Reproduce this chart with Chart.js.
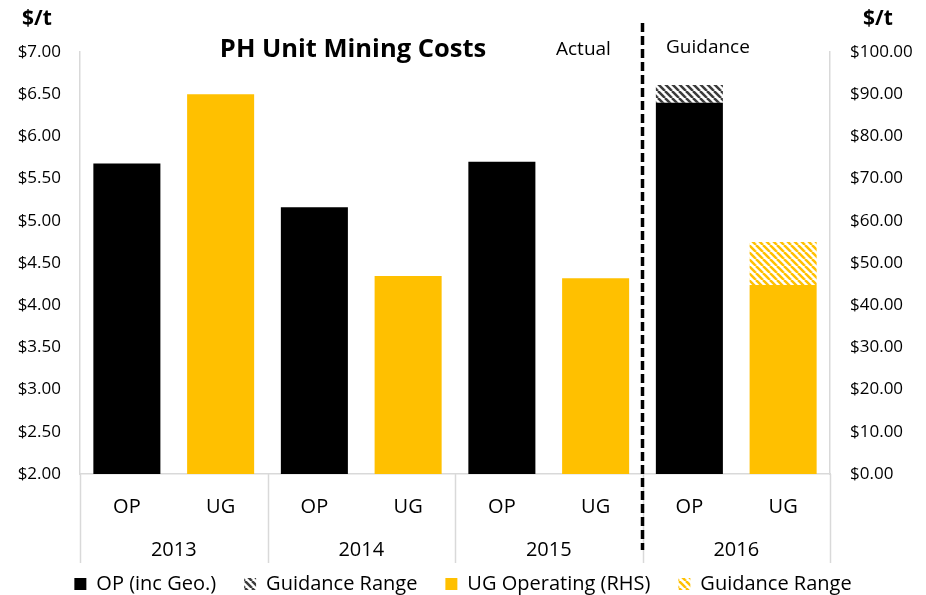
<!DOCTYPE html>
<html>
<head>
<meta charset="utf-8">
<script src="https://cdn.jsdelivr.net/npm/chart.js@4"></script>
<style>
  html, body { margin: 0; padding: 0; background: #fff; }
  #wrap { width: 926px; height: 595px; position: relative; }
</style>
</head>
<body>
<div id="wrap"><canvas id="chart"></canvas></div>
<script>
// categories
const labels = ['OP', 'UG', 'OP', 'UG', 'OP', 'UG', 'OP', 'UG'];
const years = ['2013', '2014', '2015', '2016'];

// OP on left axis ($/t), UG on right axis ($/t)
const opCost = [5.68, null, 5.16, null, 5.70, null, 6.40, null];
const opRange = [null, null, null, null, null, null, [6.40, 6.61], null];
const ugCost = [null, 90.0, null, 46.9, null, 46.4, null, 44.8];
const ugRange = [null, null, null, null, null, null, null, [44.8, 55.0]];

const leftTicks = { min: 2, max: 7, step: 0.5 };
const rightTicks = { min: 0, max: 100, step: 10 };

const FONT = "'Open Sans', 'Noto Sans', sans-serif";
const YELLOW = '#ffc000';

function hatch(color) {
  const s = 7;
  const c = document.createElement('canvas');
  c.width = s; c.height = s;
  const g = c.getContext('2d');
  g.fillStyle = '#fff';
  g.fillRect(0, 0, s, s);
  g.strokeStyle = color;
  g.lineWidth = 2.5;
  for (let k = -1; k <= 1; k++) {
    g.beginPath();
    g.moveTo(k * s, 0);
    g.lineTo(k * s + s, s);
    g.stroke();
  }
  return g.createPattern(c, 'repeat');
}

// separators, year labels, divider and headings
const extras = {
  id: 'extras',
  afterDraw(chart) {
    const { ctx, chartArea: a, scales } = chart;
    const x = scales.x;
    const edge = i => i === 0 ? a.left : i === labels.length ? a.right
      : (x.getPixelForValue(i - 1) + x.getPixelForValue(i)) / 2;

    ctx.save();
    ctx.strokeStyle = '#d9d9d9';
    ctx.lineWidth = 1.5;
    for (let i = 0; i <= labels.length; i += 2) {
      const px = Math.round(edge(i)) + 0.5;
      ctx.beginPath();
      ctx.moveTo(px, a.bottom);
      ctx.lineTo(px, 563);
      ctx.stroke();
    }

    ctx.fillStyle = '#000';
    ctx.font = '20px ' + FONT;
    ctx.textAlign = 'center';
    ctx.textBaseline = 'middle';
    years.forEach((y, i) => {
      const cx = (x.getPixelForValue(2 * i) + x.getPixelForValue(2 * i + 1)) / 2;
      ctx.fillText(y, cx, 550);
    });

    // actual / guidance divider
    const dx = edge(6);
    ctx.strokeStyle = '#000';
    ctx.lineWidth = 3.5;
    ctx.setLineDash([9, 4]);
    ctx.beginPath();
    ctx.moveTo(dx, 23);
    ctx.lineTo(dx, 550);
    ctx.stroke();
    ctx.setLineDash([]);

    ctx.font = 'bold 25.5px ' + FONT;
    ctx.fillText('PH Unit Mining Costs', 353, 50);
    ctx.font = 'bold 21px ' + FONT;
    ctx.fillText('$/t', 37, 19);
    ctx.fillText('$/t', 878, 19);

    ctx.font = '19px ' + FONT;
    ctx.textAlign = 'left';
    ctx.fillText('Actual', 556, 50);
    ctx.fillText('Guidance', 666, 48);
    ctx.restore();
  }
};

new Chart(document.getElementById('chart'), {
  type: 'bar',
  data: {
    labels: labels,
    datasets: [
      { label: 'OP (inc Geo.)', data: opCost, yAxisID: 'y', backgroundColor: '#000' },
      { label: 'Guidance Range', data: opRange, yAxisID: 'y', backgroundColor: hatch('#3a3a3a') },
      { label: 'UG Operating (RHS)', data: ugCost, yAxisID: 'y1', backgroundColor: YELLOW },
      { label: 'Guidance Range', data: ugRange, yAxisID: 'y1', backgroundColor: hatch(YELLOW) }
    ]
  },
  options: {
    responsive: true,
    maintainAspectRatio: false,
    animation: false,
    layout: { padding: { top: 52, bottom: -9, left: 0, right: 0 } },
    datasets: {
      bar: { grouped: false, barPercentage: 0.715, categoryPercentage: 1, borderWidth: 0 }
    },
    plugins: {
      legend: {
        position: 'bottom',
        labels: {
          font: { family: FONT, size: 20 },
          color: '#000',
          boxWidth: 12,
          boxHeight: 12,
          padding: 28
        }
      },
      tooltip: { enabled: false }
    },
    scales: {
      x: {
        grid: { display: false, drawTicks: false },
        border: { display: true, color: '#d9d9d9', width: 1.5 },
        ticks: { font: { family: FONT, size: 20 }, color: '#000', padding: 21, maxRotation: 0 },
        afterFit: s => { s.height = 72; }
      },
      y: {
        position: 'left',
        min: leftTicks.min, max: leftTicks.max,
        grid: { display: false, drawTicks: false },
        border: { display: true, color: '#d9d9d9', width: 1.5 },
        ticks: {
          stepSize: leftTicks.step, padding: 19,
          font: { family: FONT, size: 17 }, color: '#000',
          callback: v => '$' + Number(v).toFixed(2)
        },
        afterFit: s => { s.width = 80; }
      },
      y1: {
        position: 'right',
        min: rightTicks.min, max: rightTicks.max,
        grid: { display: false, drawTicks: false },
        border: { display: true, color: '#d9d9d9', width: 1.5 },
        ticks: {
          stepSize: rightTicks.step, padding: 20,
          font: { family: FONT, size: 17 }, color: '#000',
          callback: v => '$' + Number(v).toFixed(2)
        },
        afterFit: s => { s.width = 96; }
      }
    }
  },
  plugins: [extras]
});
</script>
</body>
</html>
